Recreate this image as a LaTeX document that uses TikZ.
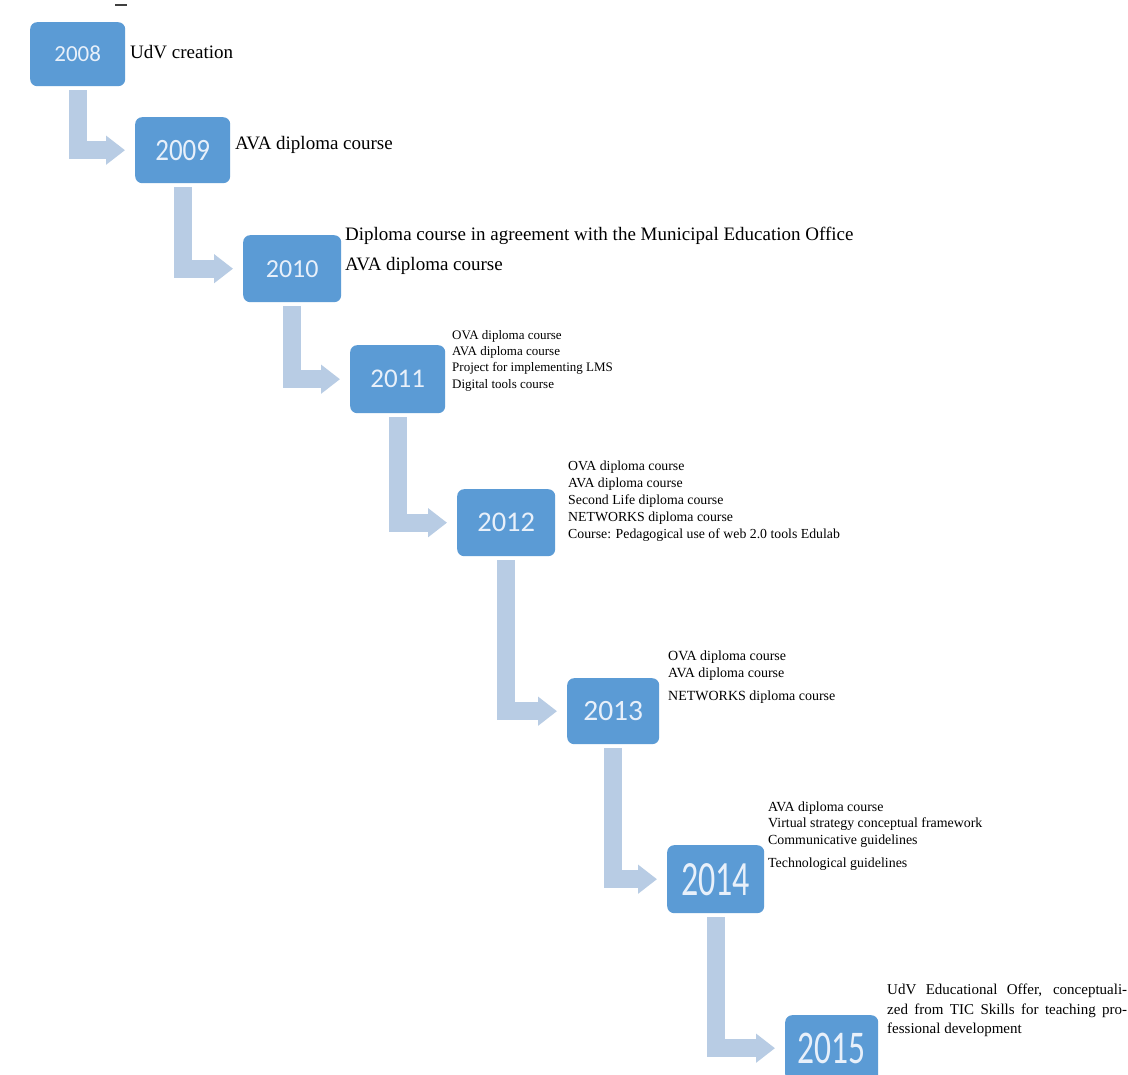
\documentclass[tikz,border=0pt]{standalone}
\usepackage{fontspec}
\usepackage{graphicx}
\setmainfont{Liberation Serif}
\newfontfamily\yearfont{Carlito}
\usetikzlibrary{arrows.meta,positioning}

\definecolor{yearblue}{RGB}{91,155,213}
\definecolor{stepblue}{RGB}{184,204,228}
\definecolor{yeartext}{RGB}{232,240,250}

% year label: [vertical stretch]{size}{text}
\newcommand{\yeartxt}[3][1]{\scalebox{1}[#1]{\yearfont\fontsize{#2}{#2}\selectfont #3}}

\tikzset{
  yearbox/.style={anchor=north west, fill=yearblue, rounded corners=7pt,
    inner sep=0pt, text=yeartext},
  stepline/.style={draw=stepblue, line width=18pt, line join=miter,
    -{Triangle[width=28pt,length=19pt,fill=stepblue]}},
  info/.style={anchor=north west, inner sep=0pt, align=left}
}

\begin{document}
\begin{tikzpicture}[x=1pt, y=-1pt]
  \path[fill=white, use as bounding box] (0,0) rectangle (1128,1075);
  \draw[line width=1.2pt, black!75] (115,5) -- (127,5);

  % year boxes
  \node[yearbox, minimum width=95pt, minimum height=64pt] (y2008) at (30,22) {\yeartxt{23}{2008}};
  \node[yearbox, minimum width=95pt, minimum height=66pt] (y2009) at (135,117) {\yeartxt[1.15]{27}{2009}};
  \node[yearbox, minimum width=98pt, minimum height=67pt] (y2010) at (243,235) {\yeartxt{26}{2010}};
  \node[yearbox, minimum width=95pt, minimum height=68pt] (y2011) at (350,345) {\yeartxt{27}{2011}};
  \node[yearbox, minimum width=98pt, minimum height=67pt] (y2012) at (457,489) {\yeartxt{28.5}{2012}};
  \node[yearbox, minimum width=92pt, minimum height=66pt] (y2013) at (567,678) {\yeartxt{29.5}{2013}};
  \node[yearbox, minimum width=97pt, minimum height=68pt] (y2014) at (667,845) {\yeartxt[1.45]{34}{2014}};
  \node[yearbox, minimum width=93pt, minimum height=66pt] (y2015) at (785,1015) {\yeartxt[1.4]{33.5}{2015}};

  % steps between years
  \foreach \a/\b in {2008/2009, 2009/2010, 2010/2011, 2011/2012, 2012/2013, 2013/2014, 2014/2015}
    \draw[stepline] ([yshift=-4pt]y\a.south) |- ([xshift=-10pt]y\b.west);

  % what happened each year
  \node[info, font=\fontsize{19}{23}\selectfont] (t2008) at (130,45) {UdV creation};
  \node[info, font=\fontsize{19}{23}\selectfont] (t2009) at (235,136) {AVA diploma course};
  \node[info, font=\fontsize{19}{30}\selectfont] (t2010) at (345,227)
    {Diploma course in agreement with the Municipal Education Office\\AVA diploma course};
  \node[info, font=\fontsize{13}{16.3}\selectfont] (t2011) at (452,330)
    {OVA diploma course\\AVA diploma course\\Project for implementing LMS\\Digital tools course};
  \node[info, font=\fontsize{13.8}{17}\selectfont] (t2012) at (568,460.6)
    {OVA diploma course\\AVA diploma course\\Second Life diploma course\\NETWORKS diploma course\\Course: Pedagogical use of web 2.0 tools Edulab};
  \node[info, font=\fontsize{14}{17}\selectfont] (t2013) at (668,650.5)
    {OVA diploma course\\AVA diploma course\\[6pt]NETWORKS diploma course};
  \node[info, font=\fontsize{13.9}{16.5}\selectfont] (t2014) at (768,801.6)
    {AVA diploma course\\Virtual strategy conceptual framework\\Communicative guidelines\\[6.5pt]Technological guidelines};
  \node[info, align=justify, text width=240pt, font=\fontsize{15}{19.5}\selectfont] (t2015) at (887,983.8)
    {UdV Educational Offer, conceptuali-\linebreak zed from TIC Skills for teaching pro-\linebreak fessional development};
\end{tikzpicture}
\end{document}
